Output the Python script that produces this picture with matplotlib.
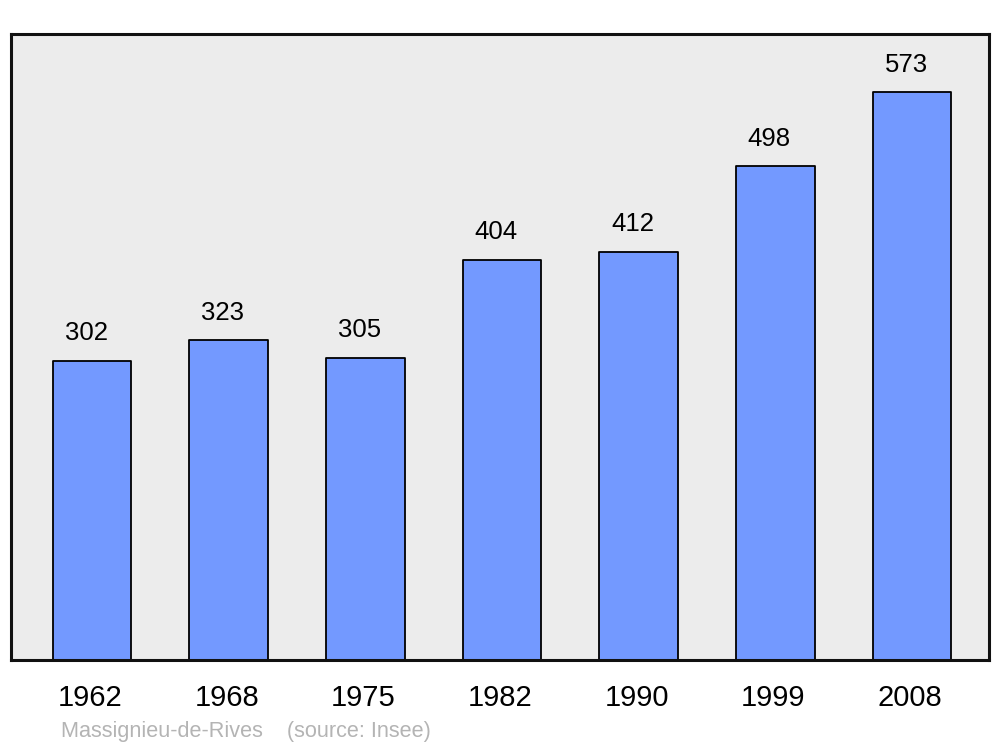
import matplotlib
matplotlib.use("Agg")
import matplotlib.pyplot as plt
import matplotlib.transforms as mtransforms

years = ["1962", "1968", "1975", "1982", "1990", "1999", "2008"]
population = [302, 323, 305, 404, 412, 498, 573]
footer = "Massignieu-de-Rives    (source: Insee)"

plt.rcParams['font.family'] = ['Liberation Sans', 'DejaVu Sans']

fig = plt.figure(figsize=(10, 7.47), dpi=100)
ax = fig.add_axes([0.011, 0.1165, 0.978, 0.838])
ax.set_facecolor('#ececec')

x = list(range(len(years)))
ax.bar(x, population, width=0.575, color='#7399ff', edgecolor='black',
       linewidth=1.3, joinstyle='round', zorder=2)
for xi, v in zip(x, population):
    ax.annotate(str(v), (xi, v), xytext=(-4.3, 11), textcoords='offset points',
                ha='center', va='bottom', fontsize=18.5, color='black')

ax.set_xlim(-0.593, 6.563)
ax.set_ylim(0, 631.5)
ax.set_xticks(x)
ax.set_xticklabels(years, fontsize=21)
ax.tick_params(axis='x', length=0, pad=17)
offset = mtransforms.ScaledTranslation(-2/100, 0, fig.dpi_scale_trans)
for lab in ax.get_xticklabels():
    lab.set_transform(lab.get_transform() + offset)
ax.set_yticks([])
for s in ax.spines.values():
    s.set_linewidth(2.2)
    s.set_color('#111111')

fig.text(0.061, 1 - 737/747, footer, fontsize=15.6, color='#b4b4b4',
         ha='left', va='baseline')

fig.savefig('out.png', dpi=100)
